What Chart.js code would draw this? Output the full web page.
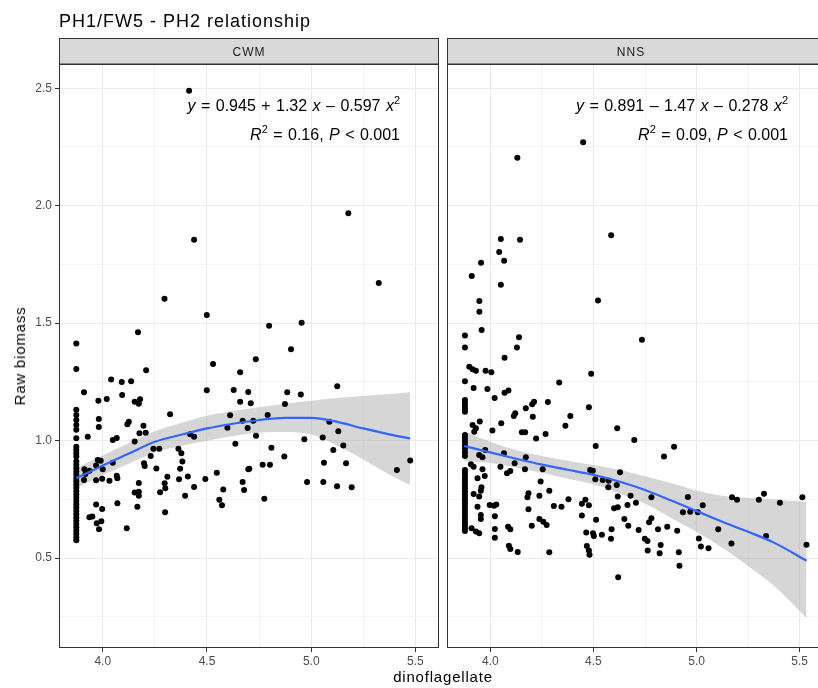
<!DOCTYPE html>
<html>
<head>
<meta charset="utf-8">
<script src="https://cdn.jsdelivr.net/npm/chart.js@4/dist/chart.umd.min.js"></script>
<style>
  body { margin: 0; width: 818px; height: 688px; overflow: hidden; background: #fff;
         font-family: "Liberation Sans", Arial, sans-serif; position: relative; }
  canvas { position: absolute; top: 0; }
  .txt { position: absolute; white-space: nowrap; color: #000; }
  .eq { font-size: 16px; line-height: 20px; word-spacing: 1px; }
  .eq sup { font-size: 11px; vertical-align: 7px; line-height: 0; }
</style>
</head>
<body>
<canvas id="cwm" width="445" height="688" style="left:0"></canvas>
<canvas id="nns" width="386" height="688" style="left:441px"></canvas>

<div class="txt" style="left:59px;top:10px;font-size:18px;line-height:22px;letter-spacing:1px">PH1/FW5 - PH2 relationship</div>
<div class="txt" style="left:443px;top:668px;font-size:15px;line-height:18px;letter-spacing:0.8px;transform:translateX(-50%)">dinoflagellate</div>
<div class="txt" style="left:20px;top:356px;font-size:15px;line-height:18px;letter-spacing:0.8px;transform:translate(-50%,-50%) rotate(-90deg)">Raw biomass</div>

<div class="txt eq" style="right:418px;top:96px"><i>y</i> = 0.945 + 1.32 <i>x</i> &ndash; 0.597 <i>x</i><sup>2</sup></div>
<div class="txt eq" style="right:418px;top:125px"><i>R</i><sup>2</sup> = 0.16, <i>P</i> &lt; 0.001</div>
<div class="txt eq" style="right:30px;top:96px"><i>y</i> = 0.891 &ndash; 1.47 <i>x</i> &ndash; 0.278 <i>x</i><sup>2</sup></div>
<div class="txt eq" style="right:30px;top:125px"><i>R</i><sup>2</sup> = 0.09, <i>P</i> &lt; 0.001</div>

<script>
// axis ranges and ticks (shared by both facets)
const xMin = 3.790, xMax = 5.613;
const yMin = 0.1175, yMax = 2.603;
const xTicks = [4.0, 4.25, 4.5, 4.75, 5.0, 5.25, 5.5];
const yTicks = [0.25, 0.5, 0.75, 1.0, 1.25, 1.5, 1.75, 2.0, 2.25, 2.5];

// CWM facet: points [dinoflagellate, raw biomass]
const cwmPoints = [
  [3.873,1.413],[3.873,1.305],[3.873,1.131],[3.873,1.109],[3.873,1.088],[3.873,1.067],[3.873,1.046],
  [3.873,1.010],[3.873,0.974],[3.873,0.960],[3.873,0.946],[3.873,0.932],[3.873,0.911],[3.873,0.897],
  [3.873,0.883],[3.873,0.869],[3.873,0.855],[3.873,0.841],[3.873,0.827],[3.873,0.813],[3.873,0.799],
  [3.873,0.785],[3.873,0.771],[3.873,0.757],[3.873,0.743],[3.873,0.729],[3.873,0.715],[3.873,0.701],
  [3.873,0.687],[3.873,0.673],[3.873,0.659],[3.873,0.645],[3.873,0.631],[3.873,0.617],[3.873,0.603],
  [3.873,0.589],[3.873,0.576],
  [3.910,1.206],[3.928,1.017],[3.912,0.878],[3.917,0.858],[3.936,0.872],[3.910,0.833],
  [3.979,1.170],[4.019,1.177],[3.981,1.092],[3.981,1.058],
  [3.976,0.918],[3.990,0.914],[3.968,0.894],[4.000,0.878],
  [3.968,0.831],[3.997,0.838],[4.032,0.829],[4.048,0.906],
  [3.968,0.728],[3.997,0.709],[3.936,0.674],[3.950,0.677],
  [3.971,0.648],[3.993,0.657],[3.982,0.623],
  [4.040,1.260],[4.091,1.250],[4.136,1.253],[4.093,1.194],
  [4.169,1.461],[4.208,1.300],
  [4.153,1.166],[4.179,1.176],[4.173,1.157],
  [4.125,1.080],[4.118,1.070],
  [4.048,1.003],[4.067,1.011],[4.153,0.996],
  [4.195,1.063],[4.206,1.034],[4.176,1.031],
  [4.067,0.851],[4.070,0.840],[4.070,0.734],[4.115,0.627],
  [4.173,0.820],[4.153,0.779],[4.173,0.783],[4.173,0.766],[4.166,0.719],
  [4.198,0.904],[4.201,0.892],[4.230,0.935],[4.243,0.966],[4.271,0.966],[4.257,0.881],
  [4.323,1.112],[4.296,1.604],
  [4.310,0.846],[4.297,0.819],[4.300,0.797],[4.275,0.780],[4.299,0.695],
  [4.363,0.966],[4.377,0.946],[4.382,0.911],
  [4.371,0.880],[4.366,0.836],[4.408,0.847],[4.395,0.766],[4.438,0.803],
  [4.419,1.027],[4.438,1.017],
  [4.499,1.535],[4.529,1.326],[4.499,1.214],[4.492,0.837],[4.547,0.863],[4.578,0.792],[4.559,0.748],[4.572,0.725],
  [4.659,1.291],[4.628,1.216],[4.659,1.166],[4.611,1.108],[4.598,1.055],[4.636,0.987],[4.671,1.085],
  [4.698,0.878],[4.671,0.824],[4.678,0.790],
  [4.414,2.489],[5.178,1.968],[4.438,1.855],[5.324,1.671],
  [4.798,1.489],[4.954,1.502],[4.903,1.389],[4.734,1.346],
  [4.698,1.207],[4.710,1.159],[4.885,1.206],[4.950,1.196],[5.125,1.231],[4.874,1.156],
  [4.791,1.109],[4.722,1.085],[4.735,1.021],[4.695,1.054],
  [5.087,1.080],[5.130,1.040],[5.055,1.013],[4.967,1.006],[5.154,0.979],[5.106,0.960],
  [4.809,0.970],[4.871,0.932],[4.703,0.880],[4.767,0.897],[4.802,0.897],
  [5.061,0.906],[5.167,0.904],[4.980,0.824],[5.058,0.824],[5.124,0.806],[5.194,0.802],
  [4.775,0.753],[5.411,0.875],[5.475,0.916]
];

// CWM fitted curve and 95% band
const cwmFitX  = [3.873, 4.0, 4.125, 4.25, 4.375, 4.5, 4.625, 4.75, 4.875, 5.0, 5.125, 5.25, 5.375, 5.475];
const cwmFit   = [0.840, 0.894, 0.945, 0.995, 1.025, 1.052, 1.072, 1.088, 1.097, 1.097, 1.080, 1.052, 1.027, 1.009];
const cwmUpper = [0.883, 0.937, 0.990, 1.040, 1.075, 1.106, 1.126, 1.142, 1.157, 1.170, 1.181, 1.190, 1.198, 1.206];
const cwmLower = [0.797, 0.853, 0.903, 0.950, 0.977, 1.000, 1.020, 1.034, 1.037, 1.026, 0.979, 0.920, 0.856, 0.811];

// NNS facet
const nnsPoints = [
  [3.877,1.447],[3.877,1.396],[3.877,1.253],[3.877,1.173],[3.877,1.160],[3.877,1.147],[3.877,1.135],
  [3.877,1.123],[3.877,1.024],[3.877,1.010],[3.877,0.995],[3.877,0.980],[3.877,0.965],[3.877,0.950],
  [3.877,0.935],[3.877,0.875],[3.877,0.862],[3.877,0.849],[3.877,0.836],[3.877,0.823],[3.877,0.810],
  [3.877,0.797],[3.877,0.784],[3.877,0.771],[3.877,0.758],[3.877,0.745],[3.877,0.732],[3.877,0.719],
  [3.877,0.706],[3.877,0.693],[3.877,0.680],[3.877,0.667],[3.877,0.654],[3.877,0.641],[3.877,0.628],
  [3.877,0.615],
  [4.450,2.270],[4.131,2.204],[4.586,1.874],[4.051,1.858],[4.144,1.855],[4.043,1.803],[4.067,1.766],
  [3.955,1.757],[3.910,1.701],[4.051,1.664],[4.522,1.596],[3.947,1.594],[3.947,1.549],[3.958,1.471],
  [4.139,1.440],[4.129,1.396],[4.069,1.353],
  [3.898,1.315],[3.914,1.304],[3.930,1.297],[3.977,1.297],[4.005,1.291],[4.489,1.285],
  [3.919,1.224],[3.986,1.220],[4.334,1.247],[4.021,1.182],[4.069,1.204],[4.088,1.213],
  [4.279,1.165],[4.212,1.166],[4.203,1.155],[4.172,1.138],[4.206,1.102],[4.478,1.142],
  [3.914,1.067],[3.930,1.053],[3.922,1.038],[3.949,1.081],[4.053,1.074],[4.010,1.043],
  [4.121,1.117],[4.114,1.105],
  [4.388,1.105],[4.364,1.063],[4.268,1.028],[4.222,1.009],[4.153,1.036],[4.169,1.036],
  [4.615,1.053],[4.511,0.977],[4.698,1.003],
  [3.975,0.960],[4.066,0.946],[3.946,0.939],[3.962,0.929],[4.172,0.929],[4.118,0.904],
  [3.906,0.900],[3.919,0.889],[4.049,0.889],[3.962,0.878],[3.973,0.850],[4.081,0.861],[4.097,0.871],
  [4.168,0.878],[4.254,0.878],[4.484,0.875],[4.497,0.872],[3.938,0.840],
  [4.509,0.836],[4.545,0.833],[4.574,0.829],[4.572,0.802],[4.613,0.811],[4.629,0.866],[4.244,0.826],
  [3.957,0.802],[3.954,0.787],[3.919,0.773],[3.946,0.762],[4.185,0.776],[4.180,0.759],[4.238,0.765],[4.286,0.787],
  [4.618,0.762],[4.680,0.765],[4.379,0.751],[4.308,0.722],[4.345,0.719],[4.444,0.731],[4.461,0.748],[4.478,0.725],
  [3.997,0.726],[4.018,0.723],[4.029,0.728],[3.938,0.719],[4.185,0.708],[4.444,0.681],
  [3.954,0.684],[3.954,0.667],[4.022,0.678],[4.600,0.712],[4.618,0.717],[4.665,0.726],[4.650,0.666],[4.669,0.638],
  [4.238,0.666],[4.257,0.655],[4.273,0.641],[4.201,0.638],[4.513,0.663],
  [3.909,0.627],[3.930,0.613],[3.946,0.606],[4.022,0.624],[4.022,0.587],[4.086,0.634],[4.097,0.623],
  [4.465,0.609],[4.502,0.594],[4.498,0.606],[4.541,0.599],[4.585,0.582],[4.588,0.623],
  [4.090,0.553],[4.097,0.539],[4.133,0.526],[4.286,0.525],[4.468,0.552],[4.478,0.532],[4.481,0.514],[4.620,0.419],
  [4.735,1.429],[4.891,0.974],[4.842,0.932],[4.706,0.736],[4.781,0.759],[4.958,0.760],
  [4.934,0.695],[4.969,0.697],[5.006,0.695],[5.030,0.725],[5.172,0.759],[5.196,0.748],[5.302,0.748],
  [5.327,0.774],[5.404,0.736],[5.513,0.759],
  [5.105,0.623],[5.169,0.562],[5.337,0.594],[5.533,0.557],[5.011,0.583],[5.021,0.549],[5.058,0.542],
  [4.719,0.620],[4.770,0.653],[4.781,0.670],[4.813,0.623],[4.858,0.634],[4.906,0.616],[4.749,0.582],
  [4.762,0.573],[4.826,0.556],[4.821,0.521],[4.763,0.532],[4.914,0.525],[4.917,0.468]
];

const nnsFitX  = [3.873, 4.0, 4.125, 4.25, 4.375, 4.5, 4.625, 4.75, 4.875, 5.0, 5.125, 5.25, 5.375, 5.533];
const nnsFit   = [0.977, 0.950, 0.923, 0.898, 0.876, 0.855, 0.826, 0.790, 0.746, 0.700, 0.655, 0.612, 0.566, 0.489];
const nnsUpper = [1.040, 0.995, 0.960, 0.935, 0.914, 0.896, 0.876, 0.848, 0.820, 0.788, 0.766, 0.757, 0.750, 0.740];
const nnsLower = [0.912, 0.905, 0.886, 0.862, 0.838, 0.814, 0.776, 0.732, 0.672, 0.612, 0.544, 0.467, 0.382, 0.245];

const FONT = '"Liberation Sans", Arial, sans-serif';
const isMajor = v => Math.abs(v * 2 - Math.round(v * 2)) < 1e-6;

const toXY = (xs, ys) => xs.map((x, i) => ({x: x, y: ys[i]}));

// strip label on top of each panel + full panel border
const panelPlugin = {
  id: 'panel',
  afterDraw(chart, args, opts) {
    const {ctx, chartArea: a} = chart;
    ctx.save();
    ctx.fillStyle = '#d9d9d9';
    ctx.fillRect(a.left, 38.5, a.right - a.left, a.top - 38.5);
    ctx.strokeStyle = '#333333';
    ctx.lineWidth = 1;
    ctx.strokeRect(a.left + 0.5, 38.5, a.right - a.left - 1, a.top - 38.5);
    ctx.strokeRect(a.left + 0.5, a.top + 0.5, a.right - a.left - 1, a.bottom - a.top - 1);
    ctx.fillStyle = '#1a1a1a';
    ctx.font = '12px ' + FONT;
    if ('letterSpacing' in ctx) ctx.letterSpacing = '1px';
    ctx.textAlign = 'center';
    ctx.textBaseline = 'middle';
    ctx.fillText(opts.text, opts.center != null ? opts.center : (a.left + a.right) / 2, (38.5 + a.top) / 2 + 1);
    ctx.restore();
  }
};

function makeChart(id, label, points, fitX, fit, upper, lower, showY, pad, stripCenter) {
  const gridCfg = {
    color: c => isMajor(c.tick.value) ? '#ebebeb' : '#f4f4f4',
    lineWidth: 1,
    tickLength: 4,
    tickColor: c => isMajor(c.tick.value) ? '#333333' : 'rgba(0,0,0,0)'
  };
  // dataset 0 is drawn last (on top): fit line, then points, then the band underneath
  return new Chart(document.getElementById(id), {
    type: 'scatter',
    data: {
      datasets: [
        { data: toXY(fitX, fit), showLine: true, borderColor: '#3366ff', borderWidth: 2.2,
          pointRadius: 0, cubicInterpolationMode: 'monotone', fill: false },
        { data: points.map(p => ({x: p[0], y: p[1]})), pointRadius: 3,
          backgroundColor: '#000000', borderWidth: 0 },
        { data: toXY(fitX, upper), showLine: true, borderWidth: 0, borderColor: 'rgba(0,0,0,0)',
          pointRadius: 0, cubicInterpolationMode: 'monotone', fill: 3,
          backgroundColor: 'rgba(153,153,153,0.4)' },
        { data: toXY(fitX, lower), showLine: true, borderWidth: 0, borderColor: 'rgba(0,0,0,0)',
          pointRadius: 0, cubicInterpolationMode: 'monotone', fill: false }
      ]
    },
    options: {
      animation: false,
      responsive: false,
      devicePixelRatio: 1,
      layout: { padding: pad },
      plugins: { legend: { display: false }, tooltip: { enabled: false }, panel: { text: label, center: stripCenter } },
      scales: {
        x: {
          type: 'linear', min: xMin, max: xMax,
          afterBuildTicks: s => { s.ticks = xTicks.map(v => ({value: v})); },
          afterFit: s => { s.height = 40; },
          border: { display: false },
          grid: gridCfg,
          ticks: { autoSkip: false, maxRotation: 0, padding: 2, color: '#4d4d4d',
                   font: { size: 12, family: FONT },
                   callback: v => isMajor(v) ? v.toFixed(1) : '' }
        },
        y: {
          type: 'linear', min: yMin, max: yMax,
          afterBuildTicks: s => { s.ticks = yTicks.map(v => ({value: v})); },
          afterFit: s => { s.width = showY ? 59 : 0; },
          border: { display: false },
          grid: Object.assign({}, gridCfg, { drawTicks: showY }),
          ticks: { display: showY, autoSkip: false, padding: 3, color: '#4d4d4d',
                   font: { size: 12, family: FONT },
                   callback: v => isMajor(v) ? v.toFixed(1) : '' }
        }
      }
    },
    plugins: [panelPlugin]
  });
}

makeChart('cwm', 'CWM', cwmPoints, cwmFitX, cwmFit, cwmUpper, cwmLower, true,
  { top: 64, right: 6, left: 0, bottom: 0 }, null);
// right facet runs past the window edge, so centre its strip label on the visible part
makeChart('nns', 'NNS', nnsPoints, nnsFitX, nnsFit, nnsUpper, nnsLower, false,
  { top: 64, right: 0, left: 6, bottom: 0 }, 190);
</script>
</body>
</html>
